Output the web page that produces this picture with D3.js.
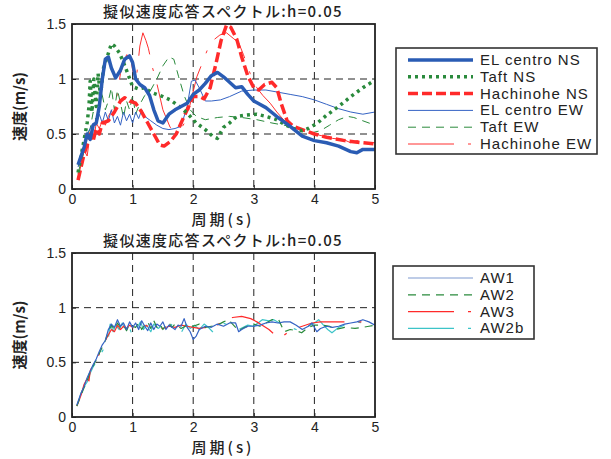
<!DOCTYPE html>
<html>
<head>
<meta charset="utf-8">
<script src="https://cdn.jsdelivr.net/npm/d3@7"></script>
<style>
  body { margin: 0; background: #fff; }
  text { font-family: "Liberation Sans", Arial, sans-serif; fill: #222; }
  .jp { font-family: "Noto Sans CJK JP", sans-serif; }
</style>
</head>
<body>
<div id="chart"></div>
<script>
// period (s) vs pseudo velocity (m/s)
const xTicks = [0, 1, 2, 3, 4, 5];
const yTicks = [0, 0.5, 1, 1.5];
const yTickLabels = ["0", "0.5", "1", "1.5"];

const elCentroNS = [[0.1,0.22],[0.15,0.3],[0.2,0.38],[0.25,0.5],[0.3,0.45],[0.35,0.58],[0.4,0.6],[0.45,0.75],[0.5,1.0],[0.55,1.18],[0.6,1.2],[0.65,1.1],[0.72,1.01],[0.8,1.08],[0.87,1.18],[0.95,1.21],[1.0,1.15],[1.05,1.0],[1.12,0.95],[1.2,0.92],[1.28,0.85],[1.35,0.72],[1.42,0.62],[1.5,0.6],[1.6,0.68],[1.7,0.72],[1.8,0.75],[1.9,0.78],[2.0,0.86],[2.1,0.9],[2.2,0.96],[2.3,1.03],[2.4,1.06],[2.5,1.02],[2.6,0.97],[2.7,0.92],[2.8,0.93],[2.9,0.86],[3.0,0.8],[3.2,0.74],[3.4,0.65],[3.6,0.57],[3.8,0.48],[4.0,0.44],[4.2,0.42],[4.4,0.39],[4.6,0.34],[4.7,0.33],[4.8,0.36],[5.0,0.36]];
const taftNS = [[0.1,0.15],[0.15,0.3],[0.2,0.45],[0.25,0.6],[0.28,0.75],[0.3,0.98],[0.33,0.7],[0.36,1.0],[0.4,0.75],[0.43,1.05],[0.47,0.85],[0.52,1.1],[0.58,1.2],[0.65,1.32],[0.7,1.3],[0.78,1.24],[0.85,1.15],[0.92,1.05],[1.0,0.93],[1.1,0.91],[1.2,0.92],[1.3,0.88],[1.4,0.86],[1.5,0.84],[1.62,0.81],[1.75,0.76],[1.9,0.69],[2.05,0.6],[2.2,0.54],[2.32,0.48],[2.4,0.46],[2.5,0.56],[2.6,0.6],[2.72,0.66],[2.85,0.67],[3.05,0.68],[3.2,0.66],[3.38,0.63],[3.5,0.59],[3.65,0.55],[3.8,0.53],[3.9,0.55],[4.05,0.6],[4.2,0.67],[4.4,0.75],[4.6,0.84],[4.8,0.92],[5.0,0.99]];
const hachinoheNS = [[0.1,0.08],[0.15,0.2],[0.2,0.32],[0.25,0.4],[0.3,0.5],[0.35,0.44],[0.4,0.55],[0.45,0.5],[0.5,0.6],[0.6,0.62],[0.7,0.7],[0.8,0.8],[0.87,0.83],[0.95,0.8],[1.05,0.78],[1.15,0.7],[1.25,0.6],[1.35,0.5],[1.45,0.4],[1.52,0.39],[1.62,0.43],[1.72,0.5],[1.8,0.6],[1.9,0.72],[2.0,0.84],[2.1,0.84],[2.18,0.82],[2.28,0.92],[2.38,1.15],[2.46,1.35],[2.55,1.49],[2.62,1.47],[2.72,1.36],[2.8,1.2],[2.9,1.03],[3.0,0.92],[3.08,0.9],[3.18,0.95],[3.3,0.97],[3.38,0.92],[3.45,0.78],[3.55,0.62],[3.65,0.57],[3.8,0.54],[4.0,0.5],[4.2,0.47],[4.5,0.44],[4.8,0.42],[5.0,0.41]];
const elCentroEW = [[0.1,0.2],[0.15,0.28],[0.2,0.4],[0.25,0.5],[0.3,0.55],[0.35,0.6],[0.4,0.58],[0.45,0.68],[0.5,0.6],[0.55,0.7],[0.6,0.62],[0.65,0.72],[0.7,0.6],[0.75,0.66],[0.8,0.58],[0.85,0.7],[0.9,0.62],[0.95,0.68],[1.0,0.6],[1.05,0.7],[1.1,0.64],[1.15,0.72],[1.2,0.66],[1.3,0.62],[1.4,0.58],[1.5,0.55],[1.6,0.54],[1.7,0.55],[1.8,0.57],[1.9,0.75],[1.97,0.98],[2.03,0.99],[2.1,0.92],[2.2,0.8],[2.3,0.8],[2.45,0.81],[2.6,0.84],[2.8,0.89],[3.0,0.9],[3.2,0.9],[3.4,0.88],[3.6,0.86],[3.8,0.84],[4.0,0.81],[4.2,0.77],[4.4,0.73],[4.6,0.7],[4.8,0.68],[5.0,0.7]];
const taftEW = [[0.1,0.14],[0.15,0.25],[0.2,0.35],[0.25,0.48],[0.3,0.55],[0.35,0.7],[0.4,0.62],[0.45,0.75],[0.5,0.85],[0.55,0.72],[0.6,0.8],[0.65,0.92],[0.7,0.72],[0.75,0.9],[0.8,0.78],[0.85,0.65],[0.9,0.8],[0.95,0.72],[1.0,0.85],[1.05,0.68],[1.1,0.75],[1.2,0.85],[1.3,0.9],[1.4,1.0],[1.5,1.12],[1.6,1.2],[1.68,1.18],[1.76,1.02],[1.85,0.85],[1.95,0.72],[2.05,0.66],[2.2,0.63],[2.4,0.65],[2.6,0.66],[2.8,0.65],[3.05,0.63],[3.3,0.6],[3.6,0.57],[3.8,0.53],[3.95,0.51],[4.1,0.53],[4.25,0.58],[4.4,0.63],[4.55,0.66],[4.65,0.65],[4.8,0.62],[5.0,0.58]];
const hachinoheEW = [[0.1,0.1],[0.15,0.22],[0.2,0.35],[0.25,0.3],[0.3,0.5],[0.35,0.42],[0.4,0.6],[0.45,0.55],[0.5,0.62],[0.55,0.58],[0.6,0.66],[0.68,0.74],[0.74,0.84],[0.8,1.05],[0.9,1.22],[0.97,1.2],[1.02,1.0],[1.07,1.05],[1.12,1.3],[1.17,1.42],[1.22,1.35],[1.26,1.28],[1.33,1.1],[1.4,0.96],[1.5,0.72],[1.62,0.56],[1.72,0.53],[1.8,0.55],[1.89,0.63],[1.97,0.82],[2.06,1.02],[2.16,1.16],[2.28,1.33],[2.44,1.4],[2.55,1.42],[2.66,1.37],[2.75,1.33],[2.83,1.22],[2.94,1.05],[3.05,0.92],[3.15,0.85],[3.27,0.78],[3.38,0.7],[3.49,0.63],[3.6,0.58],[3.75,0.55],[3.87,0.52],[4.0,0.5],[4.15,0.48],[4.3,0.46],[4.48,0.45],[4.6,0.42],[4.7,0.44],[4.8,0.43],[5.0,0.42]];

const aw1 = [[0.08,0.11],[0.15,0.22],[0.2,0.28],[0.25,0.36],[0.3,0.42],[0.35,0.48],[0.4,0.53],[0.45,0.6],[0.5,0.66],[0.55,0.7],[0.6,0.8],[0.65,0.85],[0.7,0.82],[0.75,0.89],[0.8,0.83],[0.85,0.86],[0.9,0.8],[0.95,0.87],[1.0,0.82],[1.05,0.86],[1.1,0.8],[1.15,0.88],[1.2,0.83],[1.25,0.79],[1.3,0.86],[1.35,0.8],[1.4,0.85],[1.45,0.83],[1.5,0.87],[1.55,0.8],[1.6,0.84],[1.65,0.82],[1.7,0.8],[1.75,0.84],[1.8,0.83],[1.85,0.9],[1.9,0.82],[1.95,0.78],[2.0,0.71],[2.05,0.74],[2.1,0.8],[2.2,0.83],[2.3,0.82],[2.4,0.85],[2.5,0.83],[2.6,0.86],[2.7,0.86],[2.75,0.78],[2.8,0.8],[2.9,0.83],[3.0,0.83],[3.1,0.84],[3.2,0.86],[3.3,0.87],[3.4,0.86],[3.5,0.87],[3.6,0.87],[3.7,0.84],[3.8,0.8],[3.9,0.83],[3.96,0.86],[4.04,0.78],[4.1,0.81],[4.2,0.83],[4.3,0.82],[4.4,0.83],[4.5,0.85],[4.6,0.86],[4.7,0.87],[4.8,0.89],[4.9,0.87],[5.0,0.84]];
const aw2 = [[0.08,0.1],[0.15,0.2],[0.2,0.27],[0.25,0.33],[0.3,0.42],[0.35,0.47],[0.4,0.52],[0.45,0.58],[0.5,0.64],[0.55,0.7],[0.6,0.78],[0.65,0.84],[0.7,0.8],[0.75,0.86],[0.8,0.82],[0.85,0.84],[0.9,0.79],[0.95,0.85],[1.0,0.83],[1.05,0.82],[1.1,0.86],[1.15,0.8],[1.2,0.84],[1.25,0.87],[1.3,0.81],[1.35,0.88],[1.4,0.82],[1.45,0.85],[1.5,0.8],[1.55,0.84],[1.6,0.86],[1.65,0.82],[1.7,0.85],[1.75,0.83],[1.8,0.81],[1.9,0.84],[2.0,0.83],[2.1,0.85],[2.2,0.82],[2.3,0.83],[2.4,0.84],[2.5,0.87],[2.58,0.89],[2.65,0.85],[2.75,0.79],[2.85,0.82],[3.0,0.85],[3.1,0.83],[3.2,0.86],[3.3,0.89],[3.41,0.89],[3.5,0.78],[3.6,0.8],[3.7,0.79],[3.79,0.77],[3.9,0.82],[4.0,0.84],[4.13,0.84],[4.25,0.83],[4.35,0.8],[4.5,0.82],[4.67,0.81],[4.8,0.82],[4.9,0.83],[5.0,0.84]];
const aw3 = [[0.08,0.1],[0.15,0.2],[0.2,0.3],[0.25,0.35],[0.28,0.33],[0.3,0.42],[0.35,0.48],[0.4,0.5],[0.45,0.58],[0.5,0.62],[0.55,0.7],[0.6,0.75],[0.65,0.8],[0.7,0.78],[0.75,0.84],[0.8,0.8],[0.85,0.83],[0.9,0.81],[0.95,0.84],[1.0,0.82],[1.05,0.8],[1.1,0.83],[1.2,0.84],[1.3,0.82],[1.4,0.8],[1.5,0.81],[1.6,0.83],[1.7,0.82],[1.8,0.84],[1.9,0.83],[2.0,0.82],[2.1,0.81],[2.2,0.82],[2.3,0.79],[2.4,0.84],[2.5,0.89],[2.65,0.91],[2.8,0.92],[2.95,0.9],[3.05,0.87],[3.14,0.84],[3.25,0.8],[3.33,0.76],[3.44,0.72],[3.55,0.77],[3.63,0.8],[3.8,0.83],[3.96,0.86],[4.1,0.87],[4.24,0.87],[4.5,0.87],[4.79,0.87],[4.9,0.86],[5.0,0.84]];
const aw2b = [[0.08,0.1],[0.15,0.22],[0.2,0.28],[0.25,0.32],[0.3,0.4],[0.35,0.46],[0.4,0.5],[0.45,0.57],[0.5,0.6],[0.55,0.66],[0.6,0.72],[0.63,0.85],[0.68,0.78],[0.72,0.84],[0.78,0.8],[0.83,0.86],[0.88,0.79],[0.93,0.84],[0.98,0.77],[1.03,0.85],[1.08,0.82],[1.13,0.87],[1.18,0.8],[1.23,0.84],[1.3,0.78],[1.35,0.85],[1.42,0.81],[1.5,0.84],[1.58,0.79],[1.65,0.85],[1.72,0.81],[1.8,0.77],[1.88,0.85],[1.95,0.81],[2.02,0.84],[2.1,0.8],[2.18,0.85],[2.25,0.82],[2.32,0.78],[2.4,0.83],[2.48,0.86],[2.6,0.84],[2.75,0.8],[2.9,0.84],[3.0,0.83],[3.14,0.89],[3.25,0.88],[3.33,0.89],[3.45,0.85],[3.6,0.82],[3.7,0.8],[3.8,0.78],[3.9,0.83],[4.0,0.86],[4.07,0.89],[4.15,0.84],[4.22,0.8],[4.29,0.77],[4.4,0.82],[4.5,0.84],[4.6,0.86],[4.68,0.87],[4.8,0.86],[4.9,0.84],[5.0,0.82]];

const topSeries = [
  { name: "EL centro NS", data: elCentroNS,  color: "#2a5cb4", width: 3.5, dash: null },
  { name: "Taft NS",      data: taftNS,      color: "#2a8a3c", width: 3.5, dash: "3,4" },
  { name: "Hachinohe NS", data: hachinoheNS, color: "#ff2a2a", width: 3.5, dash: "10,4" },
  { name: "EL centro EW", data: elCentroEW,  color: "#3563c4", width: 1,   dash: null },
  { name: "Taft EW",      data: taftEW,      color: "#2a8a3c", width: 1,   dash: "8,6" },
  { name: "Hachinohe EW", data: hachinoheEW, color: "#ff3030", width: 1,   dash: "46,14,3,14" }
];
const bottomSeries = [
  { name: "AW1",  data: aw1,  color: "#3563c4", width: 1.2, dash: null, legendColor: "#7f9ad0" },
  { name: "AW2",  data: aw2,  color: "#2a8a3c", width: 1.2, dash: "8,6" },
  { name: "AW3",  data: aw3,  color: "#ff2a2a", width: 1.2, dash: "46,14,3,14" },
  { name: "AW2b", data: aw2b, color: "#3cc4c8", width: 1.2, dash: "46,14,3,14" }
];

const W = 611, H = 459;
const svg = d3.select("#chart").append("svg").attr("width", W).attr("height", H);

function drawPanel(top, bottom, series, legendBox, idx) {
  const x = d3.scaleLinear().domain([0, 5]).range([72, 375]);
  const y = d3.scaleLinear().domain([0, 1.5]).range([bottom, top]);
  const g = svg.append("g");

  g.append("clipPath").attr("id", "clip" + idx)
    .append("rect").attr("x", 72).attr("y", top).attr("width", 303).attr("height", bottom - top);

  // grid
  g.selectAll(".gx").data([1, 2, 3, 4]).join("line")
    .attr("x1", d => x(d)).attr("x2", d => x(d)).attr("y1", top).attr("y2", bottom)
    .attr("stroke", "#222").attr("stroke-width", 1).attr("stroke-dasharray", "7,5");
  g.selectAll(".gy").data([0.5, 1]).join("line")
    .attr("x1", 72).attr("x2", 375).attr("y1", d => y(d)).attr("y2", d => y(d))
    .attr("stroke", "#222").attr("stroke-width", 1).attr("stroke-dasharray", "7,5");

  const line = d3.line().x(d => x(d[0])).y(d => y(d[1]));
  const lines = g.append("g").attr("clip-path", `url(#clip${idx})`);
  // thin lines first, thick on top like the picture
  series.slice().reverse().forEach(s => {
    lines.append("path").datum(s.data)
      .attr("d", line).attr("fill", "none")
      .attr("stroke", s.color).attr("stroke-width", s.width)
      .attr("stroke-dasharray", s.dash)
      .attr("stroke-linejoin", "round");
  });

  // frame
  g.append("rect").attr("x", 72).attr("y", top).attr("width", 303).attr("height", bottom - top)
    .attr("fill", "none").attr("stroke", "#222").attr("stroke-width", 1.8);

  // axes
  const xAxis = d3.axisBottom(x).tickValues(xTicks).tickSize(-4).tickPadding(5).tickFormat(d3.format("d"));
  const yAxis = d3.axisLeft(y).tickValues(yTicks).tickSize(-4).tickPadding(6).tickFormat((d, i) => yTickLabels[i]);
  const xa = g.append("g").attr("transform", `translate(0,${bottom})`).call(xAxis);
  const ya = g.append("g").attr("transform", "translate(72,0)").call(yAxis);
  [xa, ya].forEach(a => {
    a.select(".domain").remove();
    a.selectAll("line").attr("stroke", "#222");
    a.selectAll("text").attr("font-size", 14).attr("fill", "#222")
      .attr("font-family", "'Liberation Sans', Arial, sans-serif");
  });

  g.append("text").attr("class", "jp").attr("x", 223).attr("y", top - 7)
    .attr("text-anchor", "middle").attr("font-size", 15).attr("font-weight", 500)
    .attr("letter-spacing", 1.3)
    .text("擬似速度応答スペクトル:h=0.05");
  g.append("text").attr("class", "jp").attr("x", 223).attr("y", bottom + 36)
    .attr("text-anchor", "middle").attr("font-size", 15).attr("font-weight", 500)
    .attr("letter-spacing", 3)
    .text("周期(s)");
  g.append("text").attr("class", "jp")
    .attr("transform", `translate(25,${(top + bottom) / 2}) rotate(-90)`)
    .attr("text-anchor", "middle").attr("font-size", 15).attr("font-weight", "bold")
    .attr("letter-spacing", 0)
    .text("速度(m/s)");

  // legend
  const lg = svg.append("g");
  lg.append("rect").attr("x", legendBox.x).attr("y", legendBox.y)
    .attr("width", legendBox.w).attr("height", legendBox.h)
    .attr("fill", "#fff").attr("stroke", "#333").attr("stroke-width", 1.6);
  series.forEach((s, i) => {
    const cy = legendBox.y + legendBox.first + i * legendBox.step;
    lg.append("line").attr("x1", 408).attr("x2", 473).attr("y1", cy).attr("y2", cy)
      .attr("stroke", s.legendColor || s.color).attr("stroke-width", s.width)
      .attr("stroke-dasharray", s.dash);
    lg.append("text").attr("x", 480).attr("y", cy + 5).attr("font-size", 15)
      .attr("letter-spacing", 1).text(s.name);
  });
}

drawPanel(24, 189, topSeries, { x: 396, y: 48, w: 201, h: 106, first: 12, step: 16.8 }, 0);
drawPanel(253, 417, bottomSeries, { x: 393, y: 266, w: 141, h: 73, first: 12, step: 16.8 }, 1);
</script>
</body>
</html>
